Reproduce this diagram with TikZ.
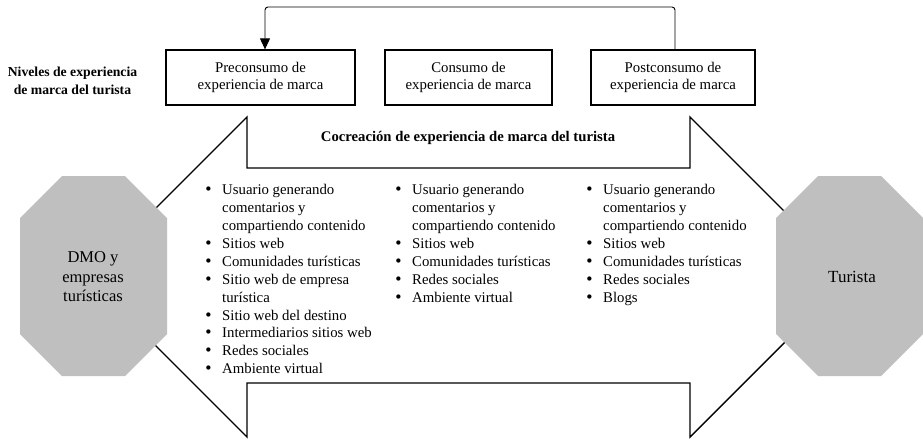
\documentclass[tikz,border=0pt]{standalone}
\usepackage{fontspec}
\setmainfont{Liberation Serif}
\newfontfamily\bulfont{DejaVu Sans}
\usetikzlibrary{arrows.meta}
\definecolor{octgray}{HTML}{BFBFBF}
\tikzset{
  stagebox/.style={draw=black, line width=1.3pt, minimum width=#1, minimum height=55pt, inner sep=0pt, align=center, font=\fontsize{14.8}{17.5}\selectfont},
  bigarrow/.style={draw=black, line width=1.4pt, fill=white, line join=miter},
  octa/.style={fill=octgray, draw=none},
  octlabel/.style={align=center, inner sep=0pt},
  listnode/.style={anchor=north west, inner sep=0pt, align=left, font=\fontsize{14.8}{17.9}\selectfont},
  boldlabel/.style={align=center, inner sep=0pt, font=\bfseries\fontsize{13.7}{18}\selectfont},
  feedback/.style={draw=black, line width=0.9pt, rounded corners=3pt, -{Triangle[width=10pt,length=11pt]}}
}
\newcommand{\bul}{\makebox[18pt][l]{{\bulfont •}}}
\newcommand{\blist}[1]{\begin{tabular}{@{}l@{}l@{}}#1\end{tabular}}
\begin{document}
\begin{tikzpicture}[x=1pt,y=-1pt]
\useasboundingbox (0,0) rectangle (923,440);
% big double arrow
\draw[bigarrow] (87,277) -- (247,117) -- (247,168) -- (690,168) -- (690,117) -- (850,277)
  -- (690,437) -- (690,383) -- (247,383) -- (247,437) -- cycle;
% octagons
\fill[octa] (62,176) -- (125,176) -- (167,218) -- (167,334) -- (125,376) -- (62,376) -- (20,334) -- (20,218) -- cycle;
\fill[octa] (818,176) -- (881,176) -- (923,218) -- (923,334) -- (881,376) -- (818,376) -- (776,334) -- (776,218) -- cycle;
\node[octlabel, font=\fontsize{16.5}{19.5}\selectfont] (dmo) at (93,277) {DMO y\\empresas\\turísticas};
\node[octlabel, font=\fontsize{17}{20}\selectfont] (tur) at (852,277) {Turista};
% stage boxes
\node[stagebox=189pt] (pre) at (260.5,77.5) {Preconsumo de\\experiencia de marca};
\node[stagebox=167pt] (con) at (468.5,77.5) {Consumo de\\experiencia de marca};
\node[stagebox=164pt] (post) at (673,77.5) {Postconsumo de\\experiencia de marca};
% feedback arrow
\coordinate (fbR) at (675,7);
\coordinate (fbL) at (265,7);
\draw[feedback] ([xshift=2pt]post.north) -- (fbR) -- (fbL) -- ([xshift=4.5pt]pre.north);
% labels
\node[boldlabel] (niv) at (72.5,81) {Niveles de experiencia\\de marca del turista};
\node[boldlabel, font=\bfseries\fontsize{14.7}{18}\selectfont] (coc) at (468,138) {Cocreación de experiencia de marca del turista};
% lists
\node[listnode] (l1) at (204,182) {\blist{%
\bul & Usuario generando\\
 & comentarios y\\
 & compartiendo contenido\\
\bul & Sitios web\\
\bul & Comunidades turísticas\\
\bul & Sitio web de empresa\\
 & turística\\
\bul & Sitio web del destino\\
\bul & Intermediarios sitios web\\
\bul & Redes sociales\\
\bul & Ambiente virtual}};
\node[listnode] (l2) at (394,182) {\blist{%
\bul & Usuario generando\\
 & comentarios y\\
 & compartiendo contenido\\
\bul & Sitios web\\
\bul & Comunidades turísticas\\
\bul & Redes sociales\\
\bul & Ambiente virtual}};
\node[listnode] (l3) at (585,182) {\blist{%
\bul & Usuario generando\\
 & comentarios y\\
 & compartiendo contenido\\
\bul & Sitios web\\
\bul & Comunidades turísticas\\
\bul & Redes sociales\\
\bul & Blogs}};
\end{tikzpicture}
\end{document}
